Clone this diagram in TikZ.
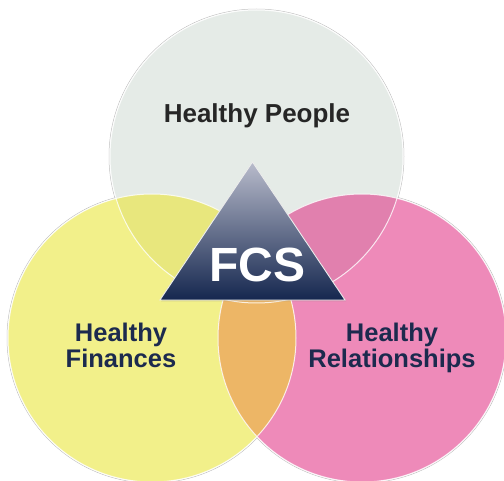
\documentclass[tikz,border=0pt]{standalone}
\usepackage{fontspec}
\setmainfont{Liberation Sans}
\usetikzlibrary{shadows}
\definecolor{people}{HTML}{E5EBE7}
\definecolor{finance}{HTML}{F2F08A}
\definecolor{relation}{HTML}{EE8AB9}
\definecolor{pf}{HTML}{E8E77D}
\definecolor{pr}{HTML}{E180AE}
\definecolor{fr}{HTML}{EDB666}
\definecolor{navy}{HTML}{1C2A4E}
\definecolor{ink}{HTML}{262626}
\definecolor{tritop}{HTML}{B8BBCB}
\definecolor{trimid}{HTML}{76829E}
\definecolor{tribot}{HTML}{15274F}
\tikzset{
  label text/.style={font=\bfseries\fontsize{25.5}{26.5}\selectfont,text=navy,align=center,text depth=0pt},
  ring/.style={white,line width=1pt,opacity=.8}
}
\begin{document}
\begin{tikzpicture}[x=1pt,y=-1pt]
  \useasboundingbox (0,0) rectangle (504,481);
  \coordinate (P) at (256.5,156.5);
  \coordinate (F) at (152,338);
  \coordinate (R) at (362,338);
  % grey rims, then the three circles
  \foreach \c/\r in {P/146.5,F/144,R/144}
    \draw[black!25,line width=.5pt] (\c) circle (\r+1);
  \fill[people] (P) circle (146.5);
  \fill[finance] (F) circle (144);
  \fill[relation] (R) circle (144);
  \begin{scope}
    \clip (P) circle (146.5);
    \fill[pf] (F) circle (144);
    \fill[pr] (R) circle (144);
  \end{scope}
  \begin{scope}
    \clip (F) circle (144);
    \fill[fr] (R) circle (144);
  \end{scope}
  \foreach \c/\r in {P/146.5,F/144,R/144}
    \draw[ring] (\c) circle (\r);
  % triangle
  \coordinate (apex) at (252.5,162);
  \coordinate (bl) at (160,300);
  \coordinate (br) at (345,300);
  \shade[top color=tritop,middle color=trimid,bottom color=tribot,
    draw=white!85!gray,line width=.9pt,drop shadow={opacity=.25,shadow xshift=1pt,shadow yshift=-1.5pt}]
    (apex) -- (br) -- (bl) -- cycle;
  \node[anchor=base,font=\bfseries\fontsize{48}{50}\selectfont,text=white] (fcs) at (257.5,281.5) {FCS};
  % labels
  \node[anchor=base,font=\bfseries\fontsize{26}{28}\selectfont,text=ink] (hp) at (257,122.5) {Healthy People};
  \node[label text] (hf) at (121,345.5) {Healthy\\Finances};
  \node[label text] (hr) at (392,345.5) {Healthy\\Relationships};
\end{tikzpicture}
\end{document}
